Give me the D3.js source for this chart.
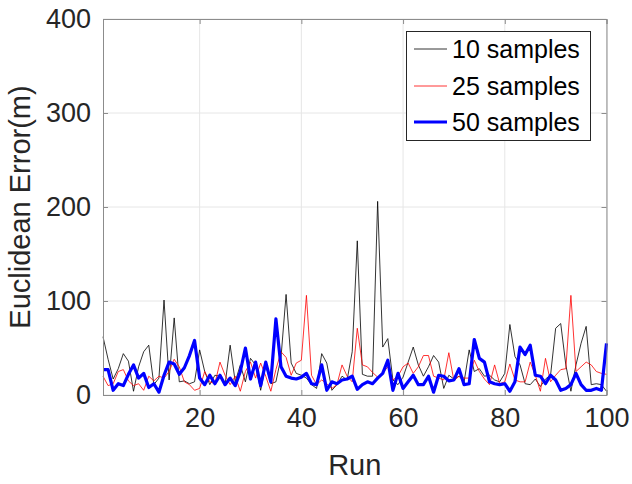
<!DOCTYPE html>
<html>
<head>
<meta charset="utf-8">
<script src="https://cdn.jsdelivr.net/npm/d3@7"></script>
<style>
  html, body { margin: 0; padding: 0; background: #fff; }
  svg { display: block; font-family: "Liberation Sans", Arial, sans-serif; }
</style>
</head>
<body>
<svg id="chart" width="632" height="484"></svg>
<script>
// Euclidean error per run for three sample sizes
const runs = d3.range(1, 101);

const err10 = [62, 38, 17, 28, 44, 36, 4, 30, 46, 53,
  11, 18, 101, 16, 82, 14, 15, 12, 14, 48,
  25, 11, 21, 20, 11, 53, 14, 32, 14, 39,
  32, 5, 32, 12, 14, 40, 107, 34, 23, 21,
  18, 11, 7, 44, 34, 5, 11, 20, 16, 46,
  164, 22, 20, 20, 206, 51, 60, 16, 11, 19,
  35, 51, 32, 20, 30, 42, 35, 7, 21, 17,
  20, 14, 48, 25, 28, 20, 21, 16, 14, 23,
  75, 41, 32, 12, 11, 17, 9, 17, 21, 71,
  76, 32, 4, 32, 55, 73, 11, 12, 11, 4];

const err25 = [20, 10, 12, 25, 27, 15, 10, 12, 5, 20,
  15, 20, 18, 25, 38, 30, 14, 11, 5, 7,
  25, 14, 12, 35, 21, 11, 20, 4, 25, 35,
  18, 34, 20, 4, 27, 46, 40, 21, 34, 37,
  106, 21, 11, 16, 12, 7, 11, 32, 20, 14,
  71, 32, 30, 24, 19, 23, 30, 16, 20, 30,
  34, 23, 30, 42, 42, 20, 18, 16, 45, 15,
  20, 18, 18, 37, 25, 17, 11, 32, 12, 14,
  33, 16, 14, 14, 35, 21, 4, 39, 14, 21,
  27, 28, 106, 25, 30, 35, 32, 25, 23, 22];

const err50 = [27, 27, 5, 12, 10, 22, 32, 18, 23, 8,
  12, 3, 21, 35, 33, 22, 29, 42, 58, 18,
  11, 21, 12, 21, 11, 18, 10, 25, 50, 17,
  35, 10, 35, 14, 81, 30, 20, 18, 17, 19,
  23, 12, 11, 32, 5, 14, 12, 16, 17, 20,
  6, 11, 14, 12, 18, 23, 37, 5, 23, 7,
  14, 21, 11, 11, 20, 3, 21, 20, 15, 16,
  28, 11, 12, 59, 39, 35, 14, 12, 11, 12,
  4, 14, 51, 43, 53, 21, 20, 12, 21, 16,
  5, 7, 11, 23, 11, 5, 5, 7, 5, 55];

const seriesNames = ["10 samples", "25 samples", "50 samples"];
const seriesColors = ["#000000", "#ff0000", "#0000ff"];
const seriesWidths = [0.8, 0.8, 3.2];
const xTicks = [20, 40, 60, 80, 100];
const yTicks = [0, 100, 200, 300, 400];

const svg = d3.select("#chart");
const L = 103, R = 606.5, T = 19, B = 395;

const x = d3.scaleLinear().domain([1, 100]).range([L, R]);
const y = d3.scaleLinear().domain([0, 400]).range([B, T]);

const axisColor = "#8c8c8c";
const textColor = "#262626";

// grid
svg.append("g").selectAll("line.gx").data(xTicks).join("line")
  .attr("x1", d => x(d)).attr("x2", d => x(d))
  .attr("y1", T).attr("y2", B)
  .attr("stroke", "#e6e6e6").attr("stroke-width", 1);
svg.append("g").selectAll("line.gy").data(yTicks).join("line")
  .attr("x1", L).attr("x2", R)
  .attr("y1", d => y(d)).attr("y2", d => y(d))
  .attr("stroke", "#e6e6e6").attr("stroke-width", 1);

// series
const data = [err10, err25, err50];
const line = d3.line().x((d, i) => x(runs[i])).y(d => y(d));
const plot = svg.append("g");
data.forEach((s, k) => {
  plot.append("path")
    .datum(s)
    .attr("d", line)
    .attr("fill", "none")
    .attr("stroke", seriesColors[k])
    .attr("stroke-width", seriesWidths[k])
    .attr("stroke-linejoin", "round");
});

// axes (ticks pointing inward)
const axB = svg.append("g").attr("transform", `translate(0,${B})`)
  .call(d3.axisBottom(x).tickValues(xTicks).tickSize(-5).tickPadding(13));
const axL = svg.append("g").attr("transform", `translate(${L},0)`)
  .call(d3.axisLeft(y).tickValues(yTicks).tickSize(-5).tickPadding(12));
const axT = svg.append("g").attr("transform", `translate(0,${T})`)
  .call(d3.axisTop(x).tickValues(xTicks).tickSize(-5).tickFormat(""));
const axR = svg.append("g").attr("transform", `translate(${R},0)`)
  .call(d3.axisRight(y).tickValues(yTicks).tickSize(-5).tickFormat(""));

[axB, axL, axT, axR].forEach(g => {
  g.select(".domain").attr("stroke", axisColor).attr("stroke-width", 1);
  g.selectAll(".tick line").attr("stroke", axisColor);
  g.selectAll("text")
    .attr("fill", textColor)
    .style("font-family", '"Liberation Sans", Arial, sans-serif')
    .style("font-size", "27px");
});

// axis titles
svg.append("text")
  .attr("x", (L + R) / 2).attr("y", 475)
  .attr("text-anchor", "middle")
  .attr("fill", textColor)
  .style("font-size", "29px")
  .text("Run");
svg.append("text")
  .attr("transform", `translate(30,${(T + B) / 2}) rotate(-90)`)
  .attr("text-anchor", "middle")
  .attr("fill", textColor)
  .style("font-size", "29px")
  .text("Euclidean Error(m)");

// legend
const lg = svg.append("g");
lg.append("rect")
  .attr("x", 406.5).attr("y", 31.5).attr("width", 184).attr("height", 109)
  .attr("fill", "#fff").attr("stroke", "#262626").attr("stroke-width", 1);
const rowY = [49, 86, 122];
seriesNames.forEach((name, k) => {
  lg.append("line")
    .attr("x1", 414).attr("x2", 447)
    .attr("y1", rowY[k]).attr("y2", rowY[k])
    .attr("stroke", seriesColors[k])
    .attr("stroke-width", seriesWidths[k]);
  lg.append("text")
    .attr("x", 452).attr("y", rowY[k] + 9)
    .attr("fill", "#000")
    .style("font-size", "25px")
    .text(name);
});
</script>
</body>
</html>
